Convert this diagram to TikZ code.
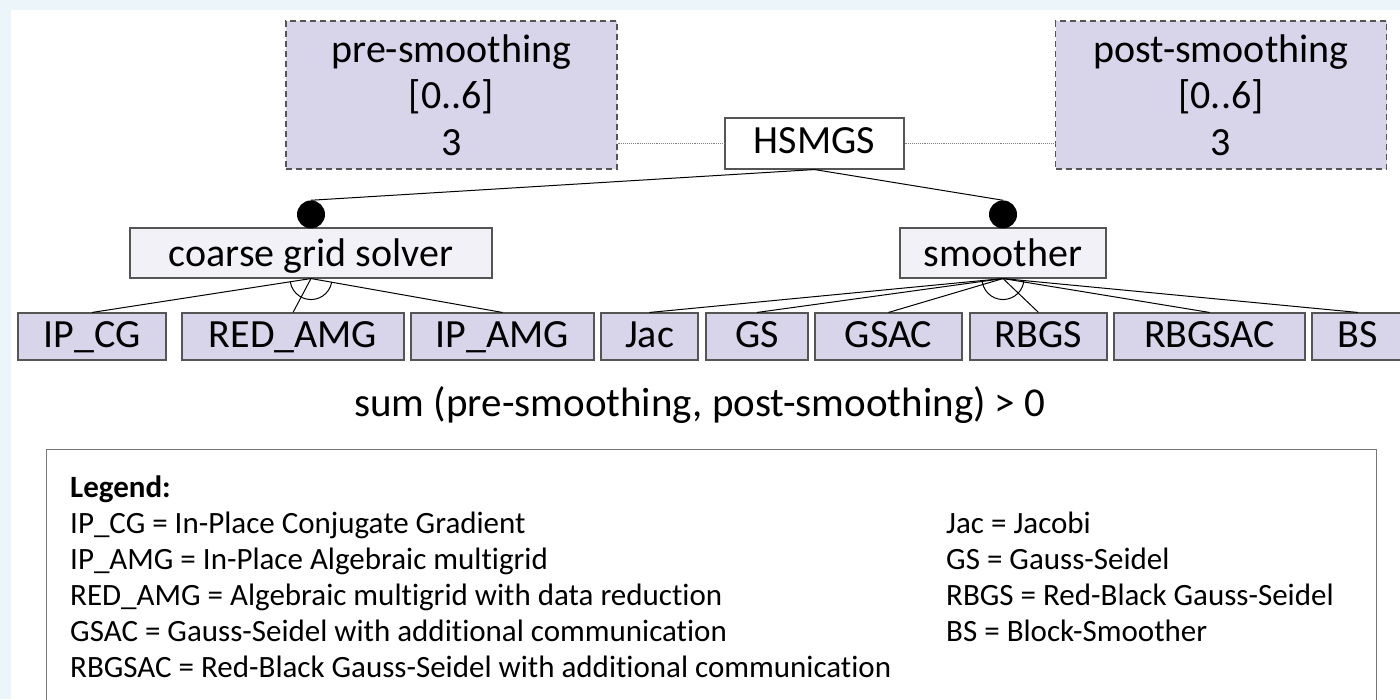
\documentclass[tikz,border=0pt]{standalone}
\usepackage{fontspec}
\setmainfont{Carlito}[Ligatures={NoCommon}]
\usetikzlibrary{calc}
\definecolor{bgblue}{RGB}{236,245,249}
\definecolor{lav}{RGB}{216,212,234}
\definecolor{lavlight}{RGB}{243,241,248}
\definecolor{edgegray}{RGB}{85,85,85}
\definecolor{framegray}{RGB}{120,120,120}
\begin{document}
\begin{tikzpicture}[x=1pt,y=-1pt,
  box/.style={draw=edgegray, line width=1.1pt, inner sep=0pt,
    font=\fontsize{40}{46.5}\selectfont, text=black},
  leaf/.style={box, fill=lav, minimum height=47pt, text height=28.5pt, text depth=7.5pt},
  group/.style={box, fill=lavlight, minimum height=50pt, text height=31pt, text depth=5pt},
  attr/.style={box, fill=lav, dash pattern=on 6pt off 4pt, align=center,
    minimum width=331pt, minimum height=148pt},
  link/.style={draw=black, line width=1pt},
  attrlink/.style={draw=gray, densely dotted, line width=0.9pt},
  mand/.style={circle, fill=black, inner sep=0pt, minimum size=28pt},
  legendtext/.style={font=\fontsize{31}{36}\selectfont, inner sep=0pt, anchor=base west}]
\useasboundingbox (0,0) rectangle (1400,699);
\clip (0,0) rectangle (1400,699);
% page background and white sheet
\fill[bgblue] (0,0) rectangle (1400,699);
\fill[white] (11,10) rectangle (1410,710);

% root and its attributes
\node[box, fill=white, minimum width=179pt, minimum height=51pt, text height=28pt, text depth=8pt] (hsmgs) at (814.5,143.5) {HSMGS};
\node[attr] (pre) at (451.5,95) {pre-smoothing\\{}[0..6]\\3};
\node[attr] (post) at (1221,95) {post-smoothing\\{}[0..6]\\3};

% intermediate features
\node[group, minimum width=362pt] (cgs) at (311,253) {coarse grid solver};
\node[group, minimum width=206pt] (smo) at (1003,253) {smoother};

% leaf features
\node[leaf, minimum width=148pt] (ipcg)   at (92,336.5)    {IP\_CG};
\node[leaf, minimum width=222pt] (redamg) at (293,336.5)   {RED\_AMG};
\node[leaf, minimum width=183pt] (ipamg)  at (502.5,336.5) {IP\_AMG};
\node[leaf, minimum width=97pt]  (jac)    at (649.5,336.5) {Jac};
\node[leaf, minimum width=102pt] (gs)     at (757,336.5)   {GS};
\node[leaf, minimum width=147pt] (gsac)   at (888.5,336.5) {GSAC};
\node[leaf, minimum width=137pt] (rbgs)   at (1038.5,336.5){RBGS};
\node[leaf, minimum width=191pt] (rbgsac) at (1209.5,336.5){RBGSAC};
\node[leaf, minimum width=92pt]  (bs)     at (1358,336.5)  {BS};

% attribute links
\draw[attrlink] (pre.east |- hsmgs.west) -- (hsmgs.west);
\draw[attrlink] (hsmgs.east) -- (post.west |- hsmgs.east);

% mandatory markers and root edges
\node[mand] (m1) at ($(cgs.north)+(0,-13)$) {};
\node[mand] (m2) at ($(smo.north)+(0,-13)$) {};
\draw[link] (hsmgs.south) -- (m1.north);
\draw[link] (hsmgs.south) -- (m2.north);

% alternative groups
\foreach \c in {ipcg,redamg,ipamg} \draw[link] (cgs.south) -- (\c.north);
\foreach \c in {jac,gs,gsac,rbgs,rbgsac,bs} \draw[link] (smo.south) -- (\c.north);
\begin{scope}
  \clip (cgs.south) -- ($(cgs.south)!3!(ipcg.north)$) -- ($(cgs.south)!3!(ipamg.north)$) -- cycle;
  \draw[link] (cgs.south) circle[radius=21];
\end{scope}
\begin{scope}
  \clip (smo.south) -- ($(smo.south)!3!(jac.north)$) -- ($(smo.south)!3!(bs.north)$) -- cycle;
  \draw[link] (smo.south) circle[radius=21];
\end{scope}

% cross-tree constraint
\node[font=\fontsize{41}{48}\selectfont] (constraint) at (700,405) {sum (pre-smoothing, post-smoothing) > 0};

% legend
\node[draw=framegray, line width=1.4pt, anchor=north west, minimum width=1330pt, minimum height=300pt] (legend) at (46,449) {};
\node[legendtext] (lg0) at (70,497) {\textbf{Legend:}};
\node[legendtext] (lg1) at (70,533) {IP\_CG = In-Place Conjugate Gradient};
\node[legendtext] (lg2) at (70,569) {IP\_AMG = In-Place Algebraic multigrid};
\node[legendtext] (lg3) at (70,605) {RED\_AMG = Algebraic multigrid with data reduction};
\node[legendtext] (lg4) at (70,641) {GSAC = Gauss-Seidel with additional communication};
\node[legendtext] (lg5) at (70,677) {RBGSAC = Red-Black Gauss-Seidel with additional communication};
\node[legendtext] (lr1) at (946,533) {Jac = Jacobi};
\node[legendtext] (lr2) at (946,569) {GS = Gauss-Seidel};
\node[legendtext] (lr3) at (946,605) {RBGS = Red-Black Gauss-Seidel};
\node[legendtext] (lr4) at (946,641) {BS = Block-Smoother};
\end{tikzpicture}
\end{document}
